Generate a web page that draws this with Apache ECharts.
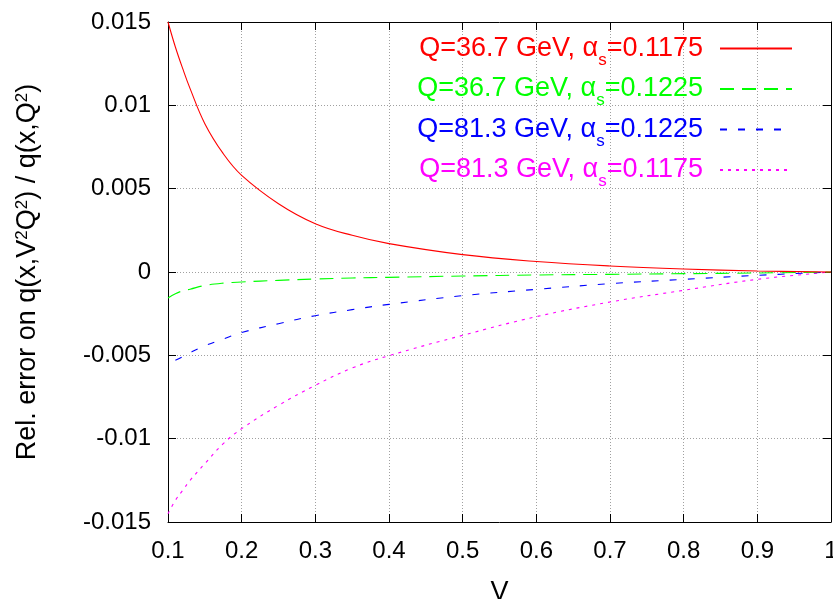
<!DOCTYPE html>
<html>
<head>
<meta charset="utf-8">
<script src="https://cdn.jsdelivr.net/npm/echarts@6/dist/echarts.min.js"></script>
<style>
html,body{margin:0;padding:0;background:#fff;}
#chart{width:833px;height:599px;}
</style>
</head>
<body>
<div id="chart"></div>
<script>
// Data
const V = [0.1, 0.11, 0.12, 0.13, 0.15, 0.175, 0.2, 0.25, 0.3, 0.35, 0.4, 0.5, 0.6, 0.7, 0.8, 0.9, 1.0];
const q367_a1175 = [0.0150, 0.0135, 0.0122, 0.0110, 0.0089, 0.0071, 0.0058, 0.0041, 0.0029, 0.0022, 0.0017, 0.00104, 0.00063, 0.00036, 0.00018, 0.00006, 0];
const q367_a1225 = [-0.00156, -0.0013, -0.00113, -0.00103, -0.00081, -0.00067, -0.0006, -0.0005, -0.00042, -0.00036, -0.00032, -0.00024, -0.00018, -0.00014, -0.0001, -0.00006, 0];
const q813_a1225 = [null, -0.0053, -0.00508, -0.00484, -0.00443, -0.00402, -0.00363, -0.0031, -0.00262, -0.00226, -0.00194, -0.00142, -0.00104, -0.0007, -0.00044, -0.0002, 0];
const q813_a1175 = [-0.0145, -0.0137, -0.0131, -0.0125, -0.0115, -0.0103, -0.0094, -0.0080, -0.0068, -0.00576, -0.00502, -0.0038, -0.00268, -0.0018, -0.0011, -0.00044, 0];

const seriesNames = ['Q=36.7 GeV, αs=0.1175', 'Q=36.7 GeV, αs=0.1225', 'Q=81.3 GeV, αs=0.1225', 'Q=81.3 GeV, αs=0.1175'];
const legendMain = ['Q=36.7 GeV, α', 'Q=36.7 GeV, α', 'Q=81.3 GeV, α', 'Q=81.3 GeV, α'];
const legendTail = ['=0.1175', '=0.1225', '=0.1225', '=0.1175'];
const colors = ['#ff0000', '#00ff00', '#0000ff', '#ff00ff'];
const dashes = ['solid', [14, 8], [7, 11], [3, 5]];
const seriesValues = [q367_a1175, q367_a1225, q813_a1225, q813_a1175];

const yTicks = { min: -0.015, max: 0.015, interval: 0.005 };
const xTicks = { min: 0.1, max: 1, interval: 0.1 };
const xName = 'V';
const yNameRich = '{n|Rel. error on q(x,V}{p|2}{n|Q}{p|2}{n|) / q(x,Q}{p|2}{n|)}';

const FONT = '"Liberation Sans", Arial, Helvetica, sans-serif';

const rich = {};
colors.forEach((c, i) => {
  rich['m' + i] = { color: c, fontSize: 27, fontFamily: FONT, lineHeight: 40, verticalAlign: 'middle' };
  rich['s' + i] = { color: c, fontSize: 17, fontFamily: FONT, lineHeight: 6, verticalAlign: 'bottom' };
  rich['t' + i] = { color: c, fontSize: 27, fontFamily: FONT, lineHeight: 40, verticalAlign: 'middle', padding: [0, 12, 0, 0] };
});

const chart = echarts.init(document.getElementById('chart'), null, { renderer: 'canvas' });

const axisLineStyle = { show: true, onZero: false, lineStyle: { color: '#000', width: 1 } };
const gridLine = { show: true, lineStyle: { color: '#a0a0a0', width: 1, type: [1, 2] } };

const option = {
  animation: false,
  backgroundColor: '#fff',
  grid: { left: 168, right: 2, top: 22, bottom: 77, containLabel: false, outerBoundsMode: 'none' },
  legend: {
    orient: 'vertical',
    right: 35,
    top: 30,
    align: 'right',
    itemWidth: 72,
    itemHeight: 14,
    itemGap: 7,
    itemStyle: { color: 'transparent', borderColor: 'transparent', borderWidth: 0 },
    data: seriesNames.map((n) => ({ name: n })),
    formatter: function (name) {
      const i = seriesNames.indexOf(name);
      return '{m' + i + '|' + legendMain[i] + '}{s' + i + '|s}{t' + i + '|' + legendTail[i] + '}';
    },
    textStyle: { fontSize: 27, fontFamily: FONT, rich: rich }
  },
  xAxis: [
    {
      type: 'value', min: xTicks.min, max: xTicks.max, interval: xTicks.interval,
      name: xName, nameLocation: 'middle', nameGap: 57,
      nameTextStyle: { fontSize: 27, fontFamily: FONT, color: '#000' },
      axisLine: axisLineStyle,
      axisTick: { show: true, inside: true, length: 8, lineStyle: { color: '#000' } },
      axisLabel: { fontSize: 24, fontFamily: FONT, color: '#000', margin: 17,
        formatter: v => String(+v.toFixed(2)) },
      splitLine: gridLine
    },
    {
      type: 'value', position: 'top', min: xTicks.min, max: xTicks.max, interval: xTicks.interval,
      axisLine: axisLineStyle,
      axisTick: { show: true, inside: true, length: 8, lineStyle: { color: '#000' } },
      axisLabel: { show: false }, splitLine: { show: false }
    }
  ],
  yAxis: [
    {
      type: 'value', min: yTicks.min, max: yTicks.max, interval: yTicks.interval,
      name: yNameRich, nameLocation: 'middle', nameGap: 124, nameRotate: 90,
      nameTextStyle: {
        fontSize: 27, fontFamily: FONT, color: '#000',
        rich: {
          n: { fontSize: 27, fontFamily: FONT, color: '#000', lineHeight: 30, verticalAlign: 'top' },
          p: { fontSize: 17, fontFamily: FONT, color: '#000', lineHeight: 16, verticalAlign: 'top' }
        }
      },
      axisLine: axisLineStyle,
      axisTick: { show: true, inside: true, length: 8, lineStyle: { color: '#000' } },
      axisLabel: { fontSize: 24, fontFamily: FONT, color: '#000', margin: 17,
        formatter: v => String(+v.toFixed(4)) },
      splitLine: gridLine
    },
    {
      type: 'value', position: 'right', min: yTicks.min, max: yTicks.max, interval: yTicks.interval,
      axisLine: axisLineStyle,
      axisTick: { show: true, inside: true, length: 8, lineStyle: { color: '#000' } },
      axisLabel: { show: false }, splitLine: { show: false }
    }
  ],
  series: seriesValues.map((vals, i) => ({
    name: seriesNames[i],
    type: 'line',
    xAxisIndex: 0, yAxisIndex: 0,
    data: V.map((x, k) => [x, vals[k]]),
    symbol: 'circle',
    showSymbol: false,
    smooth: 0.4,
    color: colors[i],
    lineStyle: { color: colors[i], width: 1.1, type: dashes[i] },
    z: 10 - i
  }))
};

chart.setOption(option);
</script>
</body>
</html>
